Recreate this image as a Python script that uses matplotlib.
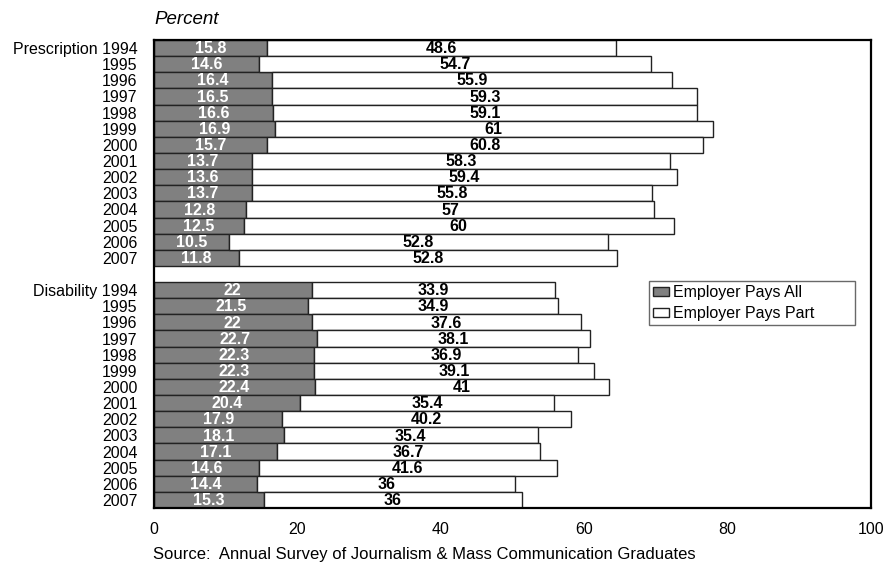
import matplotlib
matplotlib.use("Agg")
import matplotlib.pyplot as plt
import numpy as np

plt.rcParams['font.family'] = ['Liberation Sans', 'DejaVu Sans']

years = ['1994', '1995', '1996', '1997', '1998', '1999', '2000', '2001',
         '2002', '2003', '2004', '2005', '2006', '2007']
presc_all = [15.8, 14.6, 16.4, 16.5, 16.6, 16.9, 15.7, 13.7, 13.6, 13.7, 12.8, 12.5, 10.5, 11.8]
presc_part = [48.6, 54.7, 55.9, 59.3, 59.1, 61, 60.8, 58.3, 59.4, 55.8, 57, 60, 52.8, 52.8]
dis_all = [22, 21.5, 22, 22.7, 22.3, 22.3, 22.4, 20.4, 17.9, 18.1, 17.1, 14.6, 14.4, 15.3]
dis_part = [33.9, 34.9, 37.6, 38.1, 36.9, 39.1, 41, 35.4, 40.2, 35.4, 36.7, 41.6, 36, 36]
groups = ['Prescription', 'Disability']
series_names = ['Employer Pays All', 'Employer Pays Part']

fig = plt.figure(figsize=(8.89, 5.65), dpi=100)
ax = fig.add_axes([154/889, 1-508/565, (871-154)/889, (508-40)/565])

n = len(years)
labels = []
pos = []
all_vals = []
part_vals = []
for gi, (g, a, p) in enumerate(zip(groups, [presc_all, dis_all], [presc_part, dis_part])):
    for i, y in enumerate(years):
        pos.append(gi * (n + 1) + i)
        labels.append(f"{g} {y}" if i == 0 else y)
        all_vals.append(a[i])
        part_vals.append(p[i])

pos = np.array(pos)
all_vals = np.array(all_vals)
part_vals = np.array(part_vals)

gray = '#808080'
ax.barh(pos, all_vals, height=1.0, color=gray, edgecolor='#222222', linewidth=1.0,
        label=series_names[0])
ax.barh(pos, part_vals, left=all_vals, height=1.0, color='white', edgecolor='#222222',
        linewidth=1.0, label=series_names[1])

for y, a, p in zip(pos, all_vals, part_vals):
    ax.text(a / 2, y + 0.04, f"{a:g}", ha='center', va='center', color='white',
            fontsize=11.5, fontweight='bold')
    ax.text(a + p / 2, y + 0.04, f"{p:g}", ha='center', va='center', color='black',
            fontsize=11.5, fontweight='bold')

ax.set_xlim(0, 100)
ax.set_ylim(pos.max() + 0.5, -0.5)
ax.set_yticks(pos)
ax.set_yticklabels(labels, fontsize=11.5)
ax.set_xticks(np.arange(0, 101, 20))
ax.tick_params(axis='x', labelsize=11.5, length=0, pad=10)
ax.tick_params(axis='y', length=0, pad=12)
for s in ax.spines.values():
    s.set_linewidth(1.6)
    s.set_color('black')

x0 = (649 - 154) / 717
w = (855 - 649) / 717
ytop = (508 - 281) / 468
leg = ax.legend(loc='upper left', bbox_to_anchor=(x0, ytop - 0.1, w, 0.1), mode='expand',
                fontsize=11.5, frameon=True, fancybox=False, edgecolor='#444444',
                handlelength=1.0, handleheight=0.5, handletextpad=0.25,
                borderpad=0.25, labelspacing=0.4, borderaxespad=0)
leg.get_frame().set_linewidth(1.0)

fig.text(154/889, 1-20/565, 'Percent', fontsize=13.5, style='italic', va='center', ha='left')
fig.text(153/889, 1-555/565, 'Source:  Annual Survey of Journalism & Mass Communication Graduates',
         fontsize=12, va='center', ha='left')

fig.savefig('out.png', dpi=100)
